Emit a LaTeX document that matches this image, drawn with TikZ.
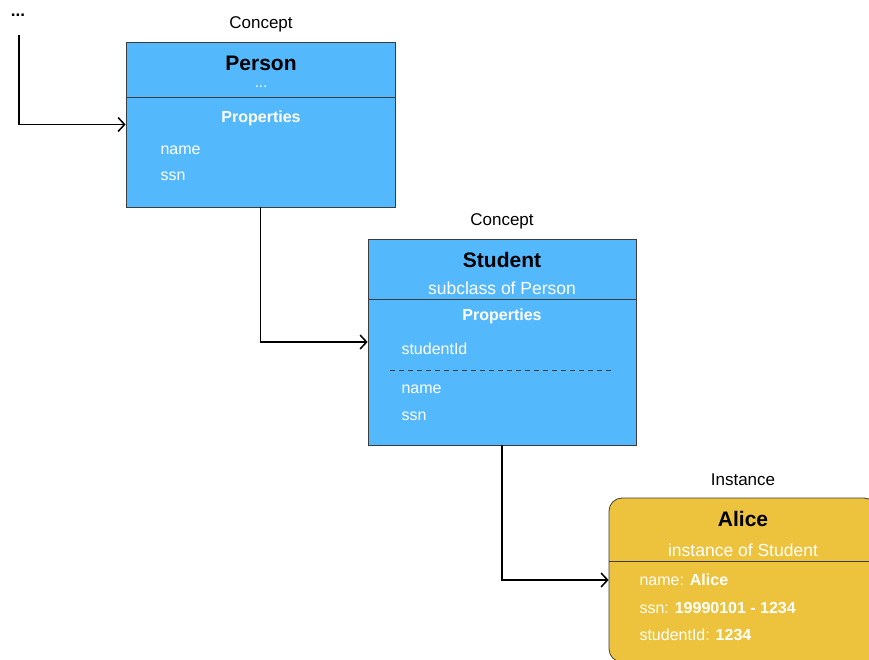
\documentclass[tikz,border=0pt]{standalone}
\usepackage{fontspec}
\setmainfont{Liberation Sans}
\usetikzlibrary{arrows.meta}
\definecolor{cblue}{RGB}{84,185,252}
\definecolor{cyel}{RGB}{237,194,60}
\definecolor{cedge}{RGB}{60,60,60}
\tikzset{
  box/.style={draw=cedge,line width=0.8pt,inner sep=0pt},
  cbox/.style={box,fill=cblue},
  ibox/.style={box,fill=cyel,rounded corners=13pt},
  lbl/.style={font=\fontsize{17}{20}\selectfont,text=black},
  ttl/.style={font=\fontsize{21}{24}\selectfont\bfseries,text=black},
  sub/.style={font=\fontsize{17.5}{20}\selectfont,text=white},
  prh/.style={font=\fontsize{16}{19}\selectfont\bfseries,text=white},
  prp/.style={font=\fontsize{16}{19}\selectfont,text=white,anchor=west},
  divl/.style={draw=cedge,line width=0.8pt},
  conn/.style={draw=black,line width=1.5pt,-{Straight Barb[length=6.5pt,width=14pt,line width=1.5pt]}},
}
\begin{document}
\begin{tikzpicture}[x=1pt,y=-1pt]
\useasboundingbox (0,0) rectangle (869,660);
% top-left dots
\node[font=\fontsize{17}{20}\selectfont\bfseries] (dots) at (18,15) {...};
\coordinate (start) at (19,35);
% Person
\node[cbox,minimum width=269pt,minimum height=165pt] (person) at (260.5,124.5) {};
\node[lbl] (c1) at (261,24) {Concept};
\node[ttl] (pt) at (261,63) {Person};
\node[sub,font=\fontsize{15}{17}\selectfont] (pd) at (261,87) {...};
\draw[divl] (person.west |- 0,97) -- (person.east |- 0,97);
\node[prh] (pph) at (261,118) {Properties};
\node[prp] (pn) at (157,150) {name};
\node[prp] (ps) at (157,176) {ssn};
% Student
\node[cbox,minimum width=268pt,minimum height=206pt] (student) at (502,342) {};
\node[lbl] (c2) at (502,221) {Concept};
\node[ttl] (st) at (502,260) {Student};
\node[sub] (sd) at (502,288) {subclass of Person};
\draw[divl] (student.west |- 0,299) -- (student.east |- 0,299);
\node[prh] (sph) at (502,316) {Properties};
\node[prp] (sid) at (398,349) {studentId};
\draw[cedge,line width=1pt,dash pattern=on 5pt off 4pt] (390,370) -- (613,370);
\node[prp] (sn) at (398,389) {name};
\node[prp] (ss) at (398,416) {ssn};
% Alice
\node[ibox,minimum width=268pt,minimum height=164pt] (alice) at (743,580) {};
\node[lbl] (c3) at (743,480) {Instance};
\node[ttl] (at) at (743,519) {Alice};
\node[sub] (ad) at (743,550) {instance of Student};
\draw[divl] (alice.west |- 0,561) -- (alice.east |- 0,561);
\node[prp] (an) at (636,580) {name: \textbf{Alice}};
\node[prp] (as) at (636,608) {ssn: \textbf{19990101 - 1234}};
\node[prp] (ai) at (636,635) {studentId: \textbf{1234}};
% connectors
\draw[conn] (start) |- (person.west);
\draw[conn] (person.south) |- (student.west);
\draw[conn] (student.south) |- (alice.west);
\end{tikzpicture}
\end{document}
